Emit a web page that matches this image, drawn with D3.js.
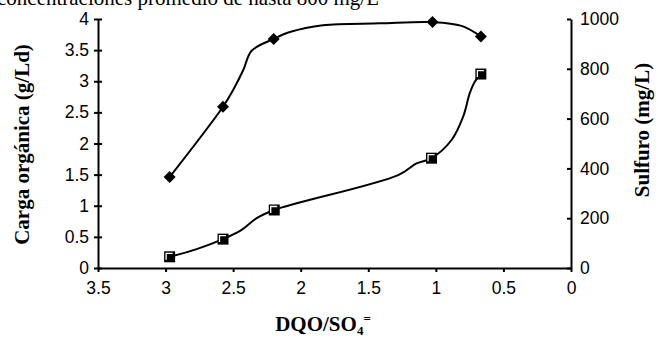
<!DOCTYPE html>
<html>
<head>
<meta charset="utf-8">
<script src="https://cdn.jsdelivr.net/npm/d3@7"></script>
<style>
  body { margin: 0; background: #fff; }
  svg { display: block; }
</style>
</head>
<body>
<div id="chart"></div>
<script>
(function() {
// marker points: DQO/SO4 ratio, organic load (g/Ld) and sulfide (mg/L)
const ratioLoad = [2.97, 2.575, 2.2, 1.025, 0.667];
const loadValues = [1.46, 2.59, 3.68, 3.95, 3.72];
const ratioSulf = [2.97, 2.575, 2.196, 1.032, 0.667];
const sulfValues = [45, 116, 233, 441, 779];

// traced curve of each series (passes through the markers)
const loadCurveX = [2.97, 2.575, 2.5, 2.425, 2.363, 2.2, 2.08, 1.836, 1.414, 1.025, 0.81, 0.667];
const loadCurveY = [1.46, 2.59, 2.86, 3.18, 3.49, 3.68, 3.79, 3.90, 3.93, 3.95, 3.89, 3.72];
const sulfCurveX = [2.97, 2.77, 2.575, 2.437, 2.326, 2.196, 1.279, 1.143, 1.032, 0.884, 0.798, 0.749, 0.712, 0.667];
const sulfCurveY = [45, 76, 116, 153, 200, 233, 373, 420, 441, 514, 608, 702, 748, 779];

const xTicks = [3.5, 3, 2.5, 2, 1.5, 1, 0.5, 0];
const leftTicks = [0, 0.5, 1, 1.5, 2, 2.5, 3, 3.5, 4];
const rightTicks = [0, 200, 400, 600, 800, 1000];

const margin = {top: 19, right: 85, bottom: 69, left: 98},
      width = 656 - margin.left - margin.right,
      height = 337 - margin.top - margin.bottom;

const svg0 = d3.select("#chart")
  .append("svg")
    .attr("width", 656)
    .attr("height", 337);

// caption line from the page above the figure (cut by the crop)
svg0.append("text")
    .attr("x", -3)
    .attr("y", 5)
    .style("font-family", "'Liberation Serif', 'Times New Roman', serif")
    .style("font-size", "21px")
    .text("concentraciones promedio de hasta 800 mg/L");

const svg = svg0.append("g")
    .attr("transform", "translate(" + margin.left + "," + margin.top + ")");

const x = d3.scaleLinear().domain([3.5, 0]).range([0, width]);
const yL = d3.scaleLinear().domain([0, 4]).range([height, 0]);
const yR = d3.scaleLinear().domain([0, 1000]).range([height, 0]);

const fmt = d => String(d);
const tickFont = "'Liberation Sans', Arial, sans-serif";

// X axis
const gx = svg.append("g")
    .attr("transform", "translate(0," + height + ")")
    .call(d3.axisBottom(x).tickValues(xTicks).tickFormat(fmt).tickSize(4).tickSizeOuter(0).tickPadding(10));

// left axis (ticks cross the line)
const gl = svg.append("g")
    .call(d3.axisLeft(yL).tickValues(leftTicks).tickFormat(fmt).tickSize(4).tickSizeOuter(0).tickPadding(5));
gl.selectAll(".tick line").attr("x1", 4);

// right axis (ticks point inward)
const gr = svg.append("g")
    .attr("transform", "translate(" + width + ",0)")
    .call(d3.axisRight(yR).tickValues(rightTicks).tickFormat(fmt).tickSize(0).tickSizeOuter(0).tickPadding(9));
gr.selectAll(".tick line").attr("x1", -4).attr("x2", 0);

[gx, gl, gr].forEach(g => {
  g.select(".domain").attr("stroke", "#000").attr("stroke-width", 2);
  g.selectAll(".tick line").attr("stroke", "#000").attr("stroke-width", 2);
  g.selectAll(".tick text")
    .attr("fill", "#000")
    .style("font-family", tickFont)
    .style("font-size", "17.5px");
});

// curves
const lineL = d3.line()
    .x(d => x(d[0]))
    .y(d => yL(d[1]))
    .curve(d3.curveCatmullRom.alpha(0.5));
const lineR = d3.line()
    .x(d => x(d[0]))
    .y(d => yR(d[1]))
    .curve(d3.curveCatmullRom.alpha(0.5));

svg.append("path")
    .datum(d3.zip(loadCurveX, loadCurveY))
    .attr("d", lineL)
    .attr("fill", "none")
    .attr("stroke", "#000")
    .attr("stroke-width", 2);

svg.append("path")
    .datum(d3.zip(sulfCurveX, sulfCurveY))
    .attr("d", lineR)
    .attr("fill", "none")
    .attr("stroke", "#000")
    .attr("stroke-width", 2);

// diamond markers
svg.selectAll(".diamond")
  .data(d3.zip(ratioLoad, loadValues))
  .enter().append("path")
    .attr("class", "diamond")
    .attr("transform", d => "translate(" + x(d[0]) + "," + yL(d[1]) + ")")
    .attr("d", "M0,-6L6,0L0,6L-6,0Z")
    .attr("fill", "#000");

// square markers with white inner corner
const sq = svg.selectAll(".square")
  .data(d3.zip(ratioSulf, sulfValues))
  .enter().append("g")
    .attr("class", "square")
    .attr("transform", d => "translate(" + x(d[0]) + "," + yR(d[1]) + ")");
sq.append("rect")
    .attr("x", -5.5).attr("y", -5.5)
    .attr("width", 11).attr("height", 11)
    .attr("fill", "#000");
sq.append("path")
    .attr("d", "M-3.5,3L-3.5,-3.5L3,-3.5")
    .attr("fill", "none")
    .attr("stroke", "#fff")
    .attr("stroke-width", 1.3);

// axis titles
const titleFont = "'Liberation Serif', 'Times New Roman', serif";

svg0.append("text")
    .attr("transform", "translate(22," + (margin.top + height / 2 + 1) + ") rotate(-90)")
    .attr("text-anchor", "middle")
    .attr("dominant-baseline", "central")
    .style("font-family", titleFont)
    .style("font-weight", "bold")
    .style("font-size", "21px")
    .text("Carga orgánica (g/Ld)");

svg0.append("text")
    .attr("transform", "translate(642,130) rotate(-90)")
    .attr("text-anchor", "middle")
    .attr("dominant-baseline", "central")
    .style("font-family", titleFont)
    .style("font-weight", "bold")
    .style("font-size", "21px")
    .text("Sulfuro (mg/L)");

const xt = svg0.append("text")
    .attr("x", 323)
    .attr("y", 331)
    .attr("text-anchor", "middle")
    .style("font-family", titleFont)
    .style("font-weight", "bold")
    .style("font-size", "21px");
xt.append("tspan").text("DQO/SO");
xt.append("tspan").attr("dy", 4).style("font-size", "13px").text("4");
xt.append("tspan").attr("dy", -12).style("font-size", "13px").text("=");
})();
</script>
</body>
</html>
